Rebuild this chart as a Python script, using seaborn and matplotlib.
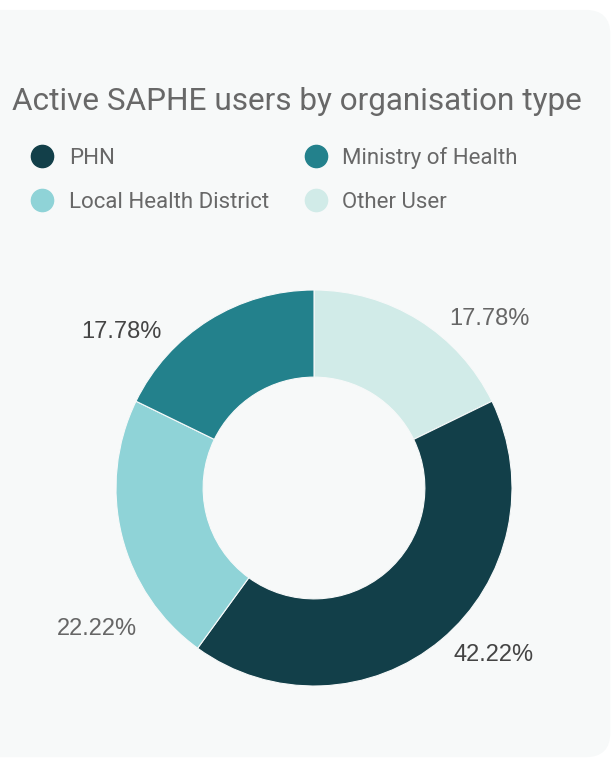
import numpy as np
import matplotlib.pyplot as plt
import seaborn as sns
from matplotlib.patches import FancyBboxPatch
from matplotlib.lines import Line2D

# slices, clockwise from 12 o'clock
categories = ['Other User', 'PHN', 'Local Health District', 'Ministry of Health']
shares = [17.78, 42.22, 22.22, 17.78]
colours = ['#d1ebe8', '#123f49', '#8fd3d7', '#23818c']
label_colours = ['#666666', '#444444', '#666666', '#444444']
# label anchor angles (deg clockwise from top) and radius
label_angle = [46, 133, 237, 309]
label_radius = [1.23, 1.24, 1.31, 1.25]

legend_order = ['PHN', 'Ministry of Health', 'Local Health District', 'Other User']

sns.set_theme(style='white')
plt.rcParams['font.family'] = ['Roboto', 'DejaVu Sans']

bg = '#f7f9f9'
fig = plt.figure(figsize=(6.14, 7.61), dpi=100)
fig.patch.set_facecolor('white')

# rounded card
card = FancyBboxPatch((-0.05, 0.005), 1.044, 0.982, boxstyle='round,pad=0,rounding_size=0.04',
                      transform=fig.transFigure, facecolor=bg, edgecolor='none',
                      mutation_aspect=614 / 761, zorder=-5)
fig.patches.append(card)

fig.text(12 / 614, 1 - 102 / 761, 'Active SAPHE users by organisation type',
         fontsize=22.7, color='#686868', va='center', ha='left')

# legend
handles = []
for name in legend_order:
    c = colours[categories.index(name)]
    handles.append(Line2D([], [], marker='o', linestyle='none', markersize=16,
                          markerfacecolor=c, markeredgecolor=c, label=name))
# column-first ordering for two columns
h = [handles[0], handles[2], handles[1], handles[3]]
leg = fig.legend(handles=h, ncol=2, loc='upper left', bbox_to_anchor=(20 / 614, 1 - 138 / 761),
                 frameon=False, fontsize=16, labelcolor='#686868', handletextpad=0.6,
                 columnspacing=1.5, labelspacing=1.05, borderaxespad=0, handlelength=1.2)

ax = fig.add_axes([(314 - 198) / 614, 1 - (488 + 198) / 761, 396 / 614, 396 / 761])
ax.set_facecolor('none')
ax.pie(shares, colors=colours, startangle=90, counterclock=False,
       wedgeprops=dict(width=0.44, edgecolor=bg, linewidth=0.8))
ax.set_aspect('equal')
ax.set_xlim(-1, 1)
ax.set_ylim(-1, 1)

for val, ang, r, lc in zip(shares, label_angle, label_radius, label_colours):
    t = np.deg2rad(ang)
    ax.text(r * np.sin(t), r * np.cos(t), f'{val:.2f}%', ha='center', va='center',
            fontsize=17, color=lc, family=['Liberation Sans', 'DejaVu Sans'], clip_on=False)

fig.savefig('out.png', dpi=100, facecolor='white')
